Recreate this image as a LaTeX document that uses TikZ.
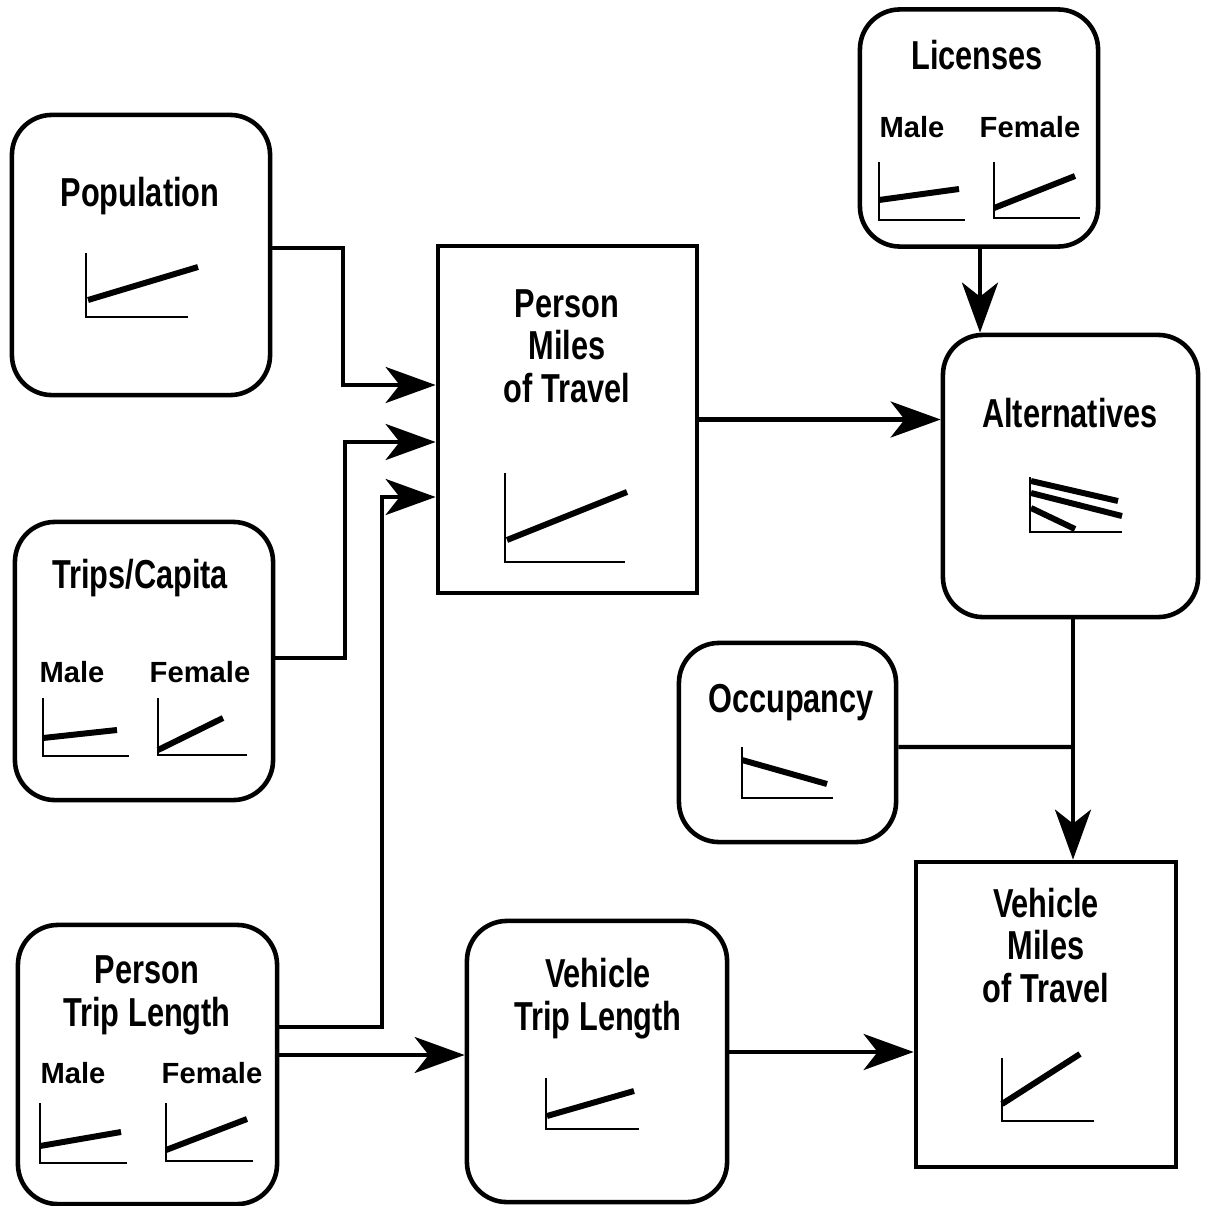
\documentclass[tikz,border=0pt]{standalone}
\usepackage{fontspec}
\setmainfont{Liberation Sans}
\newfontfamily\condfont[FakeStretch=0.76]{Liberation Sans}
\usetikzlibrary{arrows.meta}
\tikzset{
	rbox/.style={draw,line width=1.3pt,rounded corners=0.4cm,inner sep=0pt},
	sbox/.style={draw,line width=1.3pt,inner sep=0pt},
	title/.style={anchor=base,align=center,inner sep=0pt,font=\condfont\bfseries\fontsize{11.5}{12}\selectfont},
	sex/.style={anchor=base,inner sep=0pt,font=\bfseries\fontsize{8.3}{10}\selectfont},
	axis/.style={line width=0.7pt},
	trend/.style={line width=1.7pt},
	link/.style={line width=1.2pt},
	arrow/.style={link,-{Stealth[length=5mm,width=3.6mm,inset=1.4mm]}}
}
\begin{document}
\begin{tikzpicture}[x=0.01cm,y=-0.01cm]
	\useasboundingbox (0,0) rectangle (1205,1206);
	% boxes
	\node[rbox,minimum width=2.58cm,minimum height=2.8cm] (pop) at (141,255) {};
	\node[rbox,minimum width=2.58cm,minimum height=2.78cm] (trips) at (144,661) {};
	\node[rbox,minimum width=2.59cm,minimum height=2.79cm] (ptl) at (147.5,1064.5) {};
	\node[sbox,minimum width=2.59cm,minimum height=3.47cm] (pmt) at (567.5,419.5) {};
	\node[rbox,minimum width=2.38cm,minimum height=2.37cm] (lic) at (979,128) {};
	\node[rbox,minimum width=2.55cm,minimum height=2.82cm] (alt) at (1070.5,476) {};
	\node[rbox,minimum width=2.17cm,minimum height=1.99cm] (occ) at (787.5,742.5) {};
	\node[rbox,minimum width=2.6cm,minimum height=2.81cm] (vtl) at (597,1061.5) {};
	\node[sbox,minimum width=2.6cm,minimum height=3.05cm] (vmt) at (1046,1014.5) {};
	% titles
	\node[title] (poptitle) at (140,206) {Population};
	\node[title] (tripstitle) at (140,588) {Trips/Capita};
	\node[title] (ptltitle) at (147,1026) {Person\\Trip Length};
	\node[title] (pmttitle) at (567,402) {Person\\Miles\\of Travel};
	\node[title] (lictitle) at (977,70) {Licenses};
	\node[title] (alttitle) at (1070,427) {Alternatives};
	\node[title] (occtitle) at (791,712) {Occupancy};
	\node[title] (vtltitle) at (598,1030) {Vehicle\\Trip Length};
	\node[title] (vmttitle) at (1046,1002) {Vehicle\\Miles\\of Travel};
	\node[sex] (tripsmale) at (72,682) {Male};
	\node[sex] (tripsfemale) at (200,682) {Female};
	\node[sex] (licmale) at (912,137) {Male};
	\node[sex] (licfemale) at (1030,137) {Female};
	\node[sex] (ptlmale) at (73,1083) {Male};
	\node[sex] (ptlfemale) at (212,1083) {Female};
	% charts
	\draw[axis] (86,253) |- (188,317);
	\draw[trend] (88,300) -- (198,267);
	\draw[axis] (505,473) |- (625,562);
	\draw[trend] (507,540) -- (627,492);
	\draw[axis] (879,162) |- (965,220);
	\draw[trend] (879,200) -- (959,189);
	\draw[axis] (994,162) |- (1080,218);
	\draw[trend] (994,208) -- (1075,176);
	\draw[axis] (1030,477) |- (1122,532);
	\draw[trend] (1031,481) -- (1118,501);
	\draw[trend] (1031,493) -- (1122,516);
	\draw[trend] (1031,508) -- (1075,529);
	\draw[axis] (43,698) |- (129,756);
	\draw[trend] (43,738) -- (117,730);
	\draw[axis] (158,698) |- (247,755);
	\draw[trend] (158,750) -- (223,718);
	\draw[axis] (742,747) |- (833,798);
	\draw[trend] (742,760) -- (827,784);
	\draw[axis] (40,1103) |- (127,1163);
	\draw[trend] (40,1146) -- (121,1132);
	\draw[axis] (166,1103) |- (253,1161);
	\draw[trend] (166,1150) -- (247,1119);
	\draw[axis] (546,1078) |- (639,1129);
	\draw[trend] (547,1116) -- (634,1091);
	\draw[axis] (1002,1058) |- (1094,1121);
	\draw[trend] (1002,1104) -- (1080,1054);
	% connectors
	\coordinate (join) at (1073,747);
	\draw[arrow] ([yshift=0.7mm]pop.east) -| (343,385) -- (pmt.west |- 0,385);
	\draw[arrow] ([yshift=0.3mm]trips.east) -| (345,442) -- (pmt.west |- 0,442);
	\draw[arrow] ([yshift=3.75mm]ptl.east) -| (382,497) -- (pmt.west |- 0,497);
	\draw[arrow] ([yshift=0.95mm]ptl.east) -- ([yshift=0.95mm]ptl.east -| vtl.west);
	\draw[arrow] (pmt.east) -- (pmt.east -| alt.west);
	\draw[arrow] ([xshift=0.1mm]lic.south) -- ([xshift=0.1mm]lic.south |- alt.north);
	\draw[arrow] (alt.south -| join) -- (join |- vmt.north);
	\draw[link] ([yshift=-0.45mm]occ.east) -- (join);
	\draw[arrow] ([yshift=0.95mm]vtl.east) -- ([yshift=0.95mm]vtl.east -| vmt.west);
\end{tikzpicture}
\end{document}
